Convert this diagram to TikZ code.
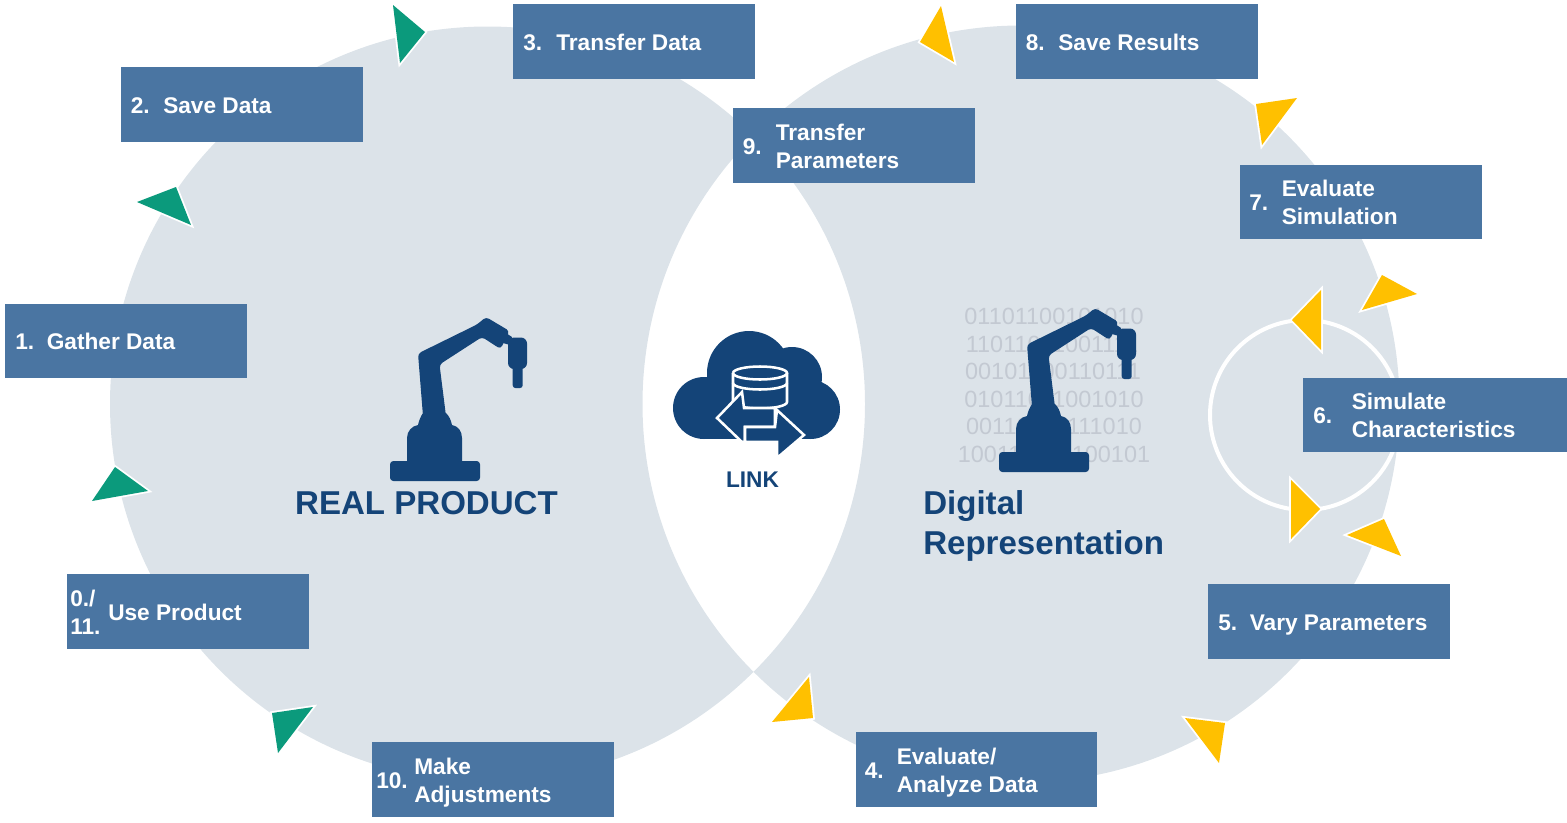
\documentclass[tikz,border=0pt]{standalone}
\usepackage{fontspec}
\setmainfont{Liberation Sans}
\definecolor{lobe}{HTML}{DCE3E9}
\definecolor{boxblue}{HTML}{4A75A2}
\definecolor{navy}{HTML}{144478}
\definecolor{tealtri}{HTML}{0B9A7C}
\definecolor{goldtri}{HTML}{FFC000}
\definecolor{binary}{HTML}{C3C9D2}
\newcommand{\labelbox}[9]{%
  \node[stepbox,minimum width=#4*0.75pt,minimum height=#5*0.75pt] (#1) at (#2+#4/2,#3+#5/2) {};
  \node[boxtext] (#1n) at (#2+#6,#3+#5/2+3) {\strut #8\strut};
  \node[boxtext] (#1t) at (#2+#7,#3+#5/2+3) {\strut #9\strut};
}
\tikzset{
  stepbox/.style={fill=boxblue,draw=none,inner sep=0pt,outer sep=0pt},
  boxtext/.style={text=white,anchor=west,inner sep=0pt,align=left,font=\fontsize{17}{21}\bfseries\selectfont},
  tealarrow/.style={fill=tealtri,preaction={draw=white,line width=2.7pt,line join=miter}},
  goldarrow/.style={fill=goldtri,preaction={draw=white,line width=2.7pt,line join=miter}},
  bintext/.style={text=binary,inner sep=0pt,font=\fontsize{17.6}{21}\selectfont},
  robotshape/.pic={
    \fill[navy,rounded corners=2.5pt] (390,461) rectangle (480,481);
    \fill[navy] (407,465) -- (407,438) .. controls (407,431) and (412,426) .. (418,425) .. controls (419,420) and (421,416) .. (423,413) -- (446,413) .. controls (449,416) and (451,420) .. (452,425) .. controls (458,426) and (462,431) .. (462,438) -- (462,465) -- cycle;
    \fill[navy,rounded corners=2.5pt] (423,416) -- (418,353.5) -- (477,324.5) -- (486,317) -- (509.5,331) -- (500.5,349) -- (482,337) -- (439.5,364.5) -- (446,416) -- cycle;
    \fill[navy] (503,331) -- (512,337) -- (510,345) -- (503,343) -- cycle;
    \fill[navy,rounded corners=4.5pt] (508,337.5) -- (527,337.5) -- (527,369) -- (508,369) -- cycle;
    \fill[navy,rounded corners=2pt] (512.7,360) rectangle (522.7,388);
  }
}
\begin{document}
\begin{tikzpicture}[x=0.75pt,y=-0.75pt]
\useasboundingbox (0,0) rectangle (1567,822);
% lobes
\fill[lobe,even odd rule] (487.5,404) circle[radius=377.5*0.75pt] (1021,404) circle[radius=378.5*0.75pt];
% inner loop
\draw[white,line width=3pt] (1305,415) circle[radius=95*0.75pt];
% arrowheads
\path[tealarrow] (393,5) -- (425,32) -- (400,63) -- cycle;
\path[tealarrow] (137,202) -- (176,187) -- (191,225) -- cycle;
\path[tealarrow] (92,501) -- (115,467) -- (148,491) -- cycle;
\path[tealarrow] (272,713) -- (313,707) -- (278,753) -- cycle;
\path[goldarrow] (941,6) -- (954,62) -- (920,42) -- cycle;
\path[goldarrow] (1256,104) -- (1297,98) -- (1262,145) -- cycle;
\path[goldarrow] (1382,275) -- (1417,294) -- (1362,310) -- cycle;
\path[goldarrow] (1292,320) -- (1321,290) -- (1321,350) -- cycle;
\path[goldarrow] (1291,480) -- (1320,509) -- (1291,539) -- cycle;
\path[goldarrow] (1347,535) -- (1384,519) -- (1401,556) -- cycle;
\path[goldarrow] (1185,718) -- (1225,723) -- (1219,763) -- cycle;
\path[goldarrow] (772,722) -- (809,677) -- (813,718) -- cycle;
% binary
\node[bintext] (b1) at (1054,316) {01101100101010};
\node[bintext] (b2) at (1052,344) {11011011001111};
\node[bintext] (b3) at (1053,371) {00101100110111};
\node[bintext] (b4) at (1054,399) {01011011001010};
\node[bintext] (b5) at (1054,426) {00110110111010};
\node[bintext] (b6) at (1054,454) {100110110100101};
% robots
\pic (robotreal) at (0,0) {robotshape};
\begin{scope}[shift={(609,-9)}]
\pic (robotdigital) at (0,0) {robotshape};
\end{scope}
% cloud
\fill[navy] (704,408) circle[radius=31*0.75pt] (749,373) circle[radius=42*0.75pt] (792,377) circle[radius=30*0.75pt] (810.5,409.5) circle[radius=29.5*0.75pt];
\fill[navy] (704,380) rectangle (810,439);
\begin{scope}[draw=white,line width=1.9pt,line join=miter]
\draw (733,373) -- (733,402) arc[start angle=180,end angle=360,x radius=27*0.75pt,y radius=6.5*0.75pt] -- (787,373);
\draw (733,373) arc[start angle=180,end angle=360,x radius=27*0.75pt,y radius=6.5*0.75pt] arc[start angle=0,end angle=180,x radius=27*0.75pt,y radius=6.5*0.75pt];
\draw (733,383) arc[start angle=180,end angle=360,x radius=27*0.75pt,y radius=6.5*0.75pt];
\draw[fill=navy] (717,418) -- (742,392) -- (744,408) -- (775,408) -- (775,427) -- (745,427) -- (745,442) -- (742,442) -- cycle;
\draw[fill=navy] (745,427) -- (775,427) -- (777,410) -- (804,435) -- (777,458) -- (777,442) -- (745,442) -- cycle;
\end{scope}
% titles
\node[text=navy,inner sep=0pt,font=\fontsize{17}{21}\bfseries\selectfont] (linklabel) at (752.5,480) {LINK};
\node[text=navy,inner sep=0pt,font=\fontsize{24.8}{30}\bfseries\selectfont] (realproduct) at (426.5,503) {REAL PRODUCT};
\node[text=navy,inner sep=0pt,anchor=west,align=left,font=\fontsize{24.8}{30}\bfseries\selectfont] (digitalrep) at (923,526) {Digital\\Representation};
% labels
\labelbox{s3}{513}{4}{242}{75}{10}{43}{3.}{Transfer Data}
\labelbox{s2}{121}{67}{242}{75}{9.5}{42}{2.}{Save Data}
\labelbox{s1}{5}{304}{242}{74}{10}{41.5}{1.}{Gather Data}
\labelbox{s0}{67}{574}{242}{75}{3}{41}{0./\\11.}{Use Product}
\labelbox{s10}{372}{742}{242}{75}{4}{42}{10.}{Make\\Adjustments}
\labelbox{s4}{856}{732}{241}{75}{8.5}{40.5}{4.}{Evaluate/\\Analyze Data}
\labelbox{s5}{1208}{584}{242}{75}{10}{41.5}{5.}{Vary Parameters}
\labelbox{s6}{1303}{378}{264}{74}{10}{48.5}{6.}{Simulate\\Characteristics}
\labelbox{s7}{1240}{165}{242}{74}{9}{41.5}{7.}{Evaluate\\Simulation}
\labelbox{s8}{1016}{4}{242}{75}{9.5}{42}{8.}{Save Results}
\labelbox{s9}{733}{108}{242}{75}{9.5}{42.5}{9.}{Transfer\\Parameters}
\end{tikzpicture}
\end{document}
